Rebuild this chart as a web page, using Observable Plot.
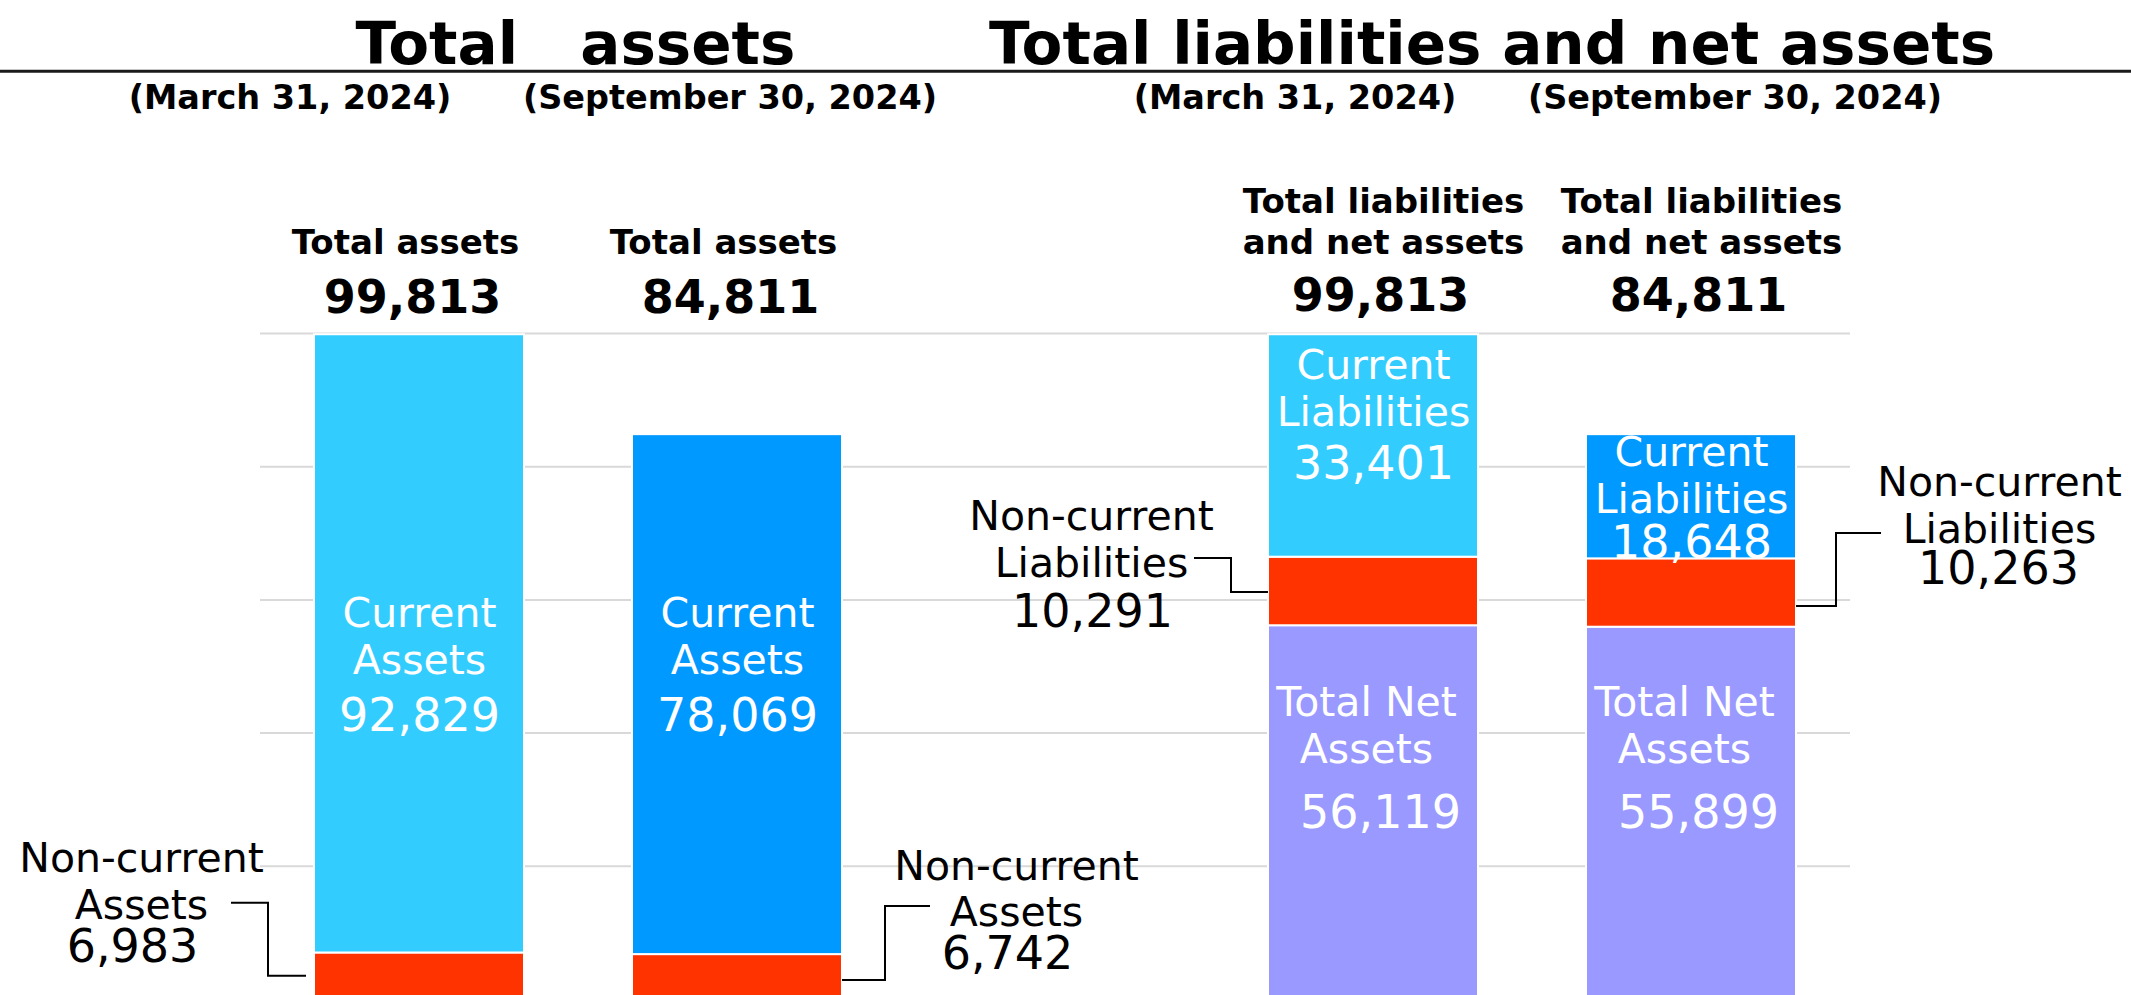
<!DOCTYPE html>
<html>
<head>
<meta charset="utf-8">
<script src="https://cdn.jsdelivr.net/npm/d3@7"></script>
<script src="https://cdn.jsdelivr.net/npm/@observablehq/plot@0.6"></script>
<style>
  html, body { margin: 0; padding: 0; background: #fff; overflow: hidden; width: 2131px; height: 995px; }
  #header, #chart svg { display: block; }
</style>
</head>
<body>
<svg id="header" width="2131" height="120"></svg>
<div id="chart"></div>
<script>
// ---------- data ----------
const sectionTitles = ["Total   assets", "Total liabilities and net assets"];
const dates = ["(March 31, 2024)", "(September 30, 2024)"];
const columnKeys = ["A0", "A1", "gap", "L0", "L1"];
const assetHeader = "Total assets";
const liabHeader = "Total liabilities\nand net assets";
const currentAssets = [92829, 78069];
const nonCurrentAssets = [6983, 6742];
const totalAssets = [99813, 84811];
const currentLiabilities = [33401, 18648];
const nonCurrentLiabilities = [10291, 10263];
const totalNetAssets = [56119, 55899];
const totalLiabilitiesNetAssets = [99813, 84811];
const gridTicks = [20000, 40000, 60000, 80000, 100000];
const partNames = {
  currentAssets: "Current\nAssets",
  nonCurrentAssets: "Non-current\nAssets",
  currentLiabilities: "Current\nLiabilities",
  nonCurrentLiabilities: "Non-current\nLiabilities",
  totalNetAssets: "Total Net\nAssets"
};

// ---------- styles ----------
const FONT = "'DejaVu Sans', Verdana, sans-serif";
const fills = {
  currentAssets: ["#33CCFF", "#0099FF"],
  nonCurrentAssets: ["#FF3300", "#FF3300"],
  currentLiabilities: ["#33CCFF", "#0099FF"],
  nonCurrentLiabilities: ["#FF3300", "#FF3300"],
  totalNetAssets: ["#9999FF", "#9999FF"]
};

// ---------- header ----------
const header = d3.select("#header").attr("font-family", FONT).attr("font-weight", "bold");
header.append("line").attr("x1", 0).attr("x2", 2131).attr("y1", 71.3).attr("y2", 71.3)
  .attr("stroke", "#1a1a1a").attr("stroke-width", 3);
[[sectionTitles[0], 575.5], [sectionTitles[1], 1492]].forEach(([t, x]) => {
  header.append("text").attr("x", x).attr("y", 64).attr("text-anchor", "middle")
    .attr("font-size", 59.5).style("white-space", "pre").text(t);
});
[[dates[0], 290], [dates[1], 730], [dates[0], 1295], [dates[1], 1735]].forEach(([t, x]) => {
  header.append("text").attr("x", x).attr("y", 109).attr("text-anchor", "middle")
    .attr("font-size", 33.5).text(t);
});

// ---------- table ----------
const fmt = d3.format(",");
const rows = [];
[0, 1].forEach(i => {
  rows.push({col: `A${i}`, part: "nonCurrentAssets", i, value: nonCurrentAssets[i]});
  rows.push({col: `A${i}`, part: "currentAssets", i, value: currentAssets[i]});
});
[0, 1].forEach(i => {
  rows.push({col: `L${i}`, part: "totalNetAssets", i, value: totalNetAssets[i]});
  rows.push({col: `L${i}`, part: "nonCurrentLiabilities", i, value: nonCurrentLiabilities[i]});
  rows.push({col: `L${i}`, part: "currentLiabilities", i, value: currentLiabilities[i]});
});

const topValue = d3.max(totalAssets.concat(totalLiabilitiesNetAssets));
const assetHeads = [0, 1].map(i => ({col: `A${i}`, name: assetHeader, total: totalAssets[i]}));
const liabHeads = [0, 1].map(i => ({col: `L${i}`, name: liabHeader, total: totalLiabilitiesNetAssets[i]}));
const caAnchor = (d3.max(nonCurrentAssets) + d3.min(totalAssets)) / 2;
const caLabels = [0, 1].map(i => ({col: `A${i}`, v: currentAssets[i]}));
const netAnchor = d3.min(totalNetAssets) / 2;
const netLabels = [0, 1].map(i => ({col: `L${i}`, v: totalNetAssets[i]}));
const clLabels = [0, 1].map(i => ({col: `L${i}`, v: currentLiabilities[i], top: totalLiabilitiesNetAssets[i]}));
const ncaLabels = [0, 1].map(i => ({col: `A${i}`, v: nonCurrentAssets[i], mid: nonCurrentAssets[i] / 2}));
const nclLabels = [0, 1].map(i => ({col: `L${i}`, v: nonCurrentLiabilities[i], mid: totalNetAssets[i] + nonCurrentLiabilities[i] / 2}));

// connector elbows (pixel offsets from the bar edge at the segment middle)
const connectorSpecs = [
  {col: "A0", side: "left", y: ncaLabels[0].mid, pts: [[-83, -73], [-46, -73], [-46, 0], [-8, 0]]},
  {col: "A1", side: "right", y: ncaLabels[1].mid, pts: [[0, 3.5], [43, 3.5], [43, -70.5], [88, -70.5]]},
  {col: "L0", side: "left", y: nclLabels[0].mid, pts: [[-74, -33], [-37, -33], [-37, 1], [0, 1]]},
  {col: "L1", side: "right", y: nclLabels[1].mid, pts: [[0, 13.5], [40, 13.5], [40, -59.5], [85, -59.5]]}
];

function connectors(...args) {
  const scales = args.find(a => a && typeof a.x === "function" && typeof a.y === "function");
  const g = d3.create("svg:g").attr("fill", "none").attr("stroke", "#000").attr("stroke-width", 2);
  if (!scales) return g.node();
  const sx = scales.x, sy = scales.y;
  const bw = typeof sx.bandwidth === "function" ? sx.bandwidth() : 0;
  for (const c of connectorSpecs) {
    const x0 = sx(c.col) + (c.side === "right" ? bw : 0);
    const y0 = sy(c.y);
    g.append("path").attr("d", d3.line()(c.pts.map(([dx, dy]) => [x0 + dx, y0 + dy])));
  }
  return g.node();
}

const white = {fill: "white", fontFamily: FONT};
const black = {fill: "black", fontFamily: FONT};
const only = (arr, col) => arr.filter(d => d.col === col);

const chart = Plot.plot({
  width: 2131,
  height: 900,
  marginTop: 213,
  marginBottom: 21,
  marginLeft: 260,
  marginRight: 281,
  style: {fontFamily: FONT, background: "white", overflow: "visible"},
  x: {domain: columnKeys, paddingInner: 0.34, paddingOuter: 0.17, axis: null},
  y: {domain: [0, 100000], axis: null},
  color: {type: "identity"},
  marks: [
    Plot.ruleY(gridTicks, {stroke: "#D9D9D9", strokeWidth: 2}),
    Plot.barY(rows, {x: "col", y: "value", fill: d => fills[d.part][d.i], stroke: "white", strokeWidth: 2}),
    // headers above bars
    Plot.text(assetHeads, {x: "col", y: () => topValue, text: "name", fontWeight: "bold", fontSize: 34,
      lineAnchor: "bottom", dx: -14, dy: -81, ...black}),
    Plot.text(assetHeads, {x: "col", y: () => topValue, text: d => fmt(d.total), fontWeight: "bold", fontSize: 46,
      lineAnchor: "bottom", dx: -7, dy: -22, ...black}),
    Plot.text(liabHeads, {x: "col", y: () => topValue, text: "name", fontWeight: "bold", fontSize: 34,
      lineAnchor: "bottom", lineHeight: 1.2, dx: 10, dy: -81, ...black}),
    Plot.text(liabHeads, {x: "col", y: () => topValue, text: d => fmt(d.total), fontWeight: "bold", fontSize: 46,
      lineAnchor: "bottom", dx: 7, dy: -24, ...black}),
    // current assets
    Plot.text(caLabels, {x: "col", y: () => caAnchor, text: () => partNames.currentAssets, fontSize: 41,
      lineAnchor: "bottom", lineHeight: 1.146, dy: -20, ...white}),
    Plot.text(caLabels, {x: "col", y: () => caAnchor, text: d => fmt(d.v), fontSize: 46,
      lineAnchor: "bottom", dy: 37, ...white}),
    // total net assets
    Plot.text(netLabels, {x: "col", y: () => netAnchor, text: () => partNames.totalNetAssets, fontSize: 41,
      lineAnchor: "bottom", lineHeight: 1.146, dy: -50, dx: -7, ...white}),
    Plot.text(netLabels, {x: "col", y: () => netAnchor, text: d => fmt(d.v), fontSize: 46,
      lineAnchor: "bottom", dy: 15, dx: 7, ...white}),
    // current liabilities
    Plot.text(only(clLabels, "L0"), {x: "col", y: "top", text: () => partNames.currentLiabilities, fontSize: 41,
      lineAnchor: "bottom", lineHeight: 1.146, dy: 91, ...white}),
    Plot.text(only(clLabels, "L0"), {x: "col", y: "top", text: d => fmt(d.v), fontSize: 46,
      lineAnchor: "bottom", dy: 144, ...white}),
    Plot.text(only(clLabels, "L1"), {x: "col", y: "top", text: () => partNames.currentLiabilities, fontSize: 41,
      lineAnchor: "bottom", lineHeight: 1.146, dy: 78, ...white}),
    Plot.text(only(clLabels, "L1"), {x: "col", y: "top", text: d => fmt(d.v), fontSize: 46,
      lineAnchor: "bottom", dy: 123, ...white}),
    // non-current assets annotations
    Plot.text(only(ncaLabels, "A0"), {x: "col", y: "mid", text: () => partNames.nonCurrentAssets, fontSize: 41,
      lineAnchor: "bottom", lineHeight: 1.146, dx: -278, dy: -57, ...black}),
    Plot.text(only(ncaLabels, "A0"), {x: "col", y: "mid", text: d => fmt(d.v), fontSize: 46,
      lineAnchor: "bottom", dx: -287, dy: -14, ...black}),
    Plot.text(only(ncaLabels, "A1"), {x: "col", y: "mid", text: () => partNames.nonCurrentAssets, fontSize: 41,
      lineAnchor: "bottom", lineHeight: 1.1, dx: 279, dy: -51.5, ...black}),
    Plot.text(only(ncaLabels, "A1"), {x: "col", y: "mid", text: d => fmt(d.v), fontSize: 46,
      lineAnchor: "bottom", dx: 270, dy: -8.5, ...black}),
    // non-current liabilities annotations
    Plot.text(only(nclLabels, "L0"), {x: "col", y: "mid", text: () => partNames.nonCurrentLiabilities, fontSize: 41,
      lineAnchor: "bottom", lineHeight: 1.146, dx: -282, dy: -14, ...black}),
    Plot.text(only(nclLabels, "L0"), {x: "col", y: "mid", text: d => fmt(d.v), fontSize: 46,
      lineAnchor: "bottom", dx: -281, dy: 36, ...black}),
    Plot.text(only(nclLabels, "L1"), {x: "col", y: "mid", text: () => partNames.nonCurrentLiabilities, fontSize: 41,
      lineAnchor: "bottom", lineHeight: 1.146, dx: 308, dy: -50.5, ...black}),
    Plot.text(only(nclLabels, "L1"), {x: "col", y: "mid", text: d => fmt(d.v), fontSize: 46,
      lineAnchor: "bottom", dx: 307, dy: -9.5, ...black}),
    connectors
  ]
});
document.getElementById("chart").appendChild(chart);
</script>
</body>
</html>
